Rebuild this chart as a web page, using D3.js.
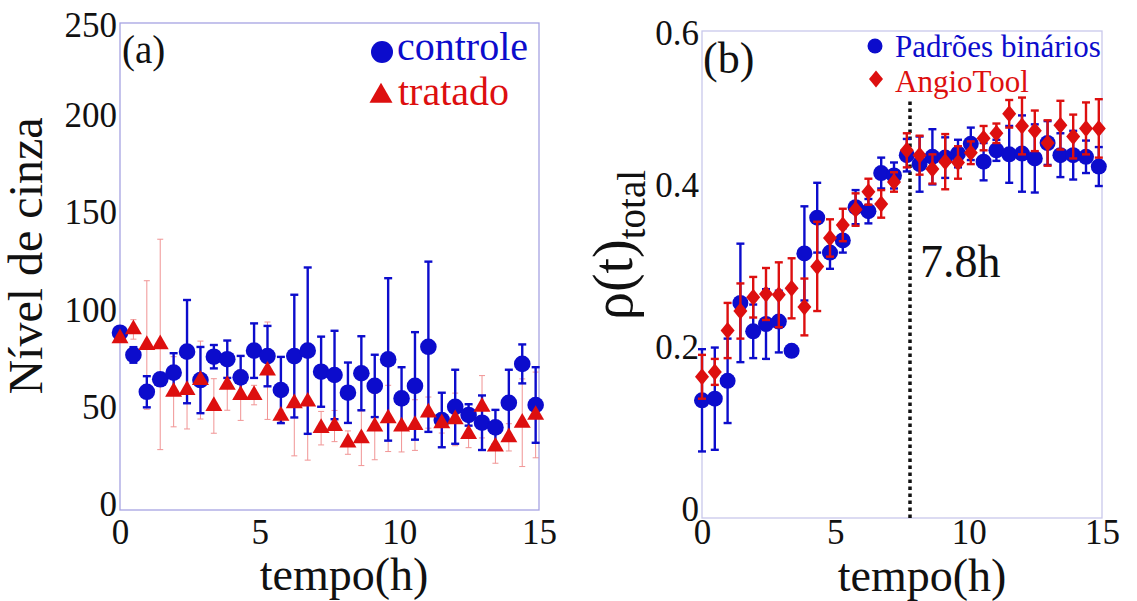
<!DOCTYPE html>
<html>
<head>
<meta charset="utf-8">
<script src="https://cdn.jsdelivr.net/npm/d3@7"></script>
<style>
  html, body { margin: 0; padding: 0; background: #fff; }
  svg { display: block; font-family: "Liberation Serif", "Times New Roman", serif; }
  svg .tick text { font-family: "Liberation Serif", "Times New Roman", serif !important; }
</style>
</head>
<body>
<svg id="fig" width="1137" height="601"></svg>
<script>
// Sampling times (h), shared by both panels
const tempo = [0, 0.48, 0.96, 1.44, 1.92, 2.40, 2.88, 3.36, 3.84, 4.32, 4.80, 5.28,
  5.76, 6.24, 6.72, 7.20, 7.68, 8.16, 8.64, 9.12, 9.60, 10.08, 10.56, 11.04,
  11.52, 12.00, 12.48, 12.96, 13.44, 13.92, 14.40, 14.88];

// Panel (a): grey level
const controleMean = [91, 79.6, 60.7, 67.1, 70.5, 81.3, 66.7, 78.7, 77.4, 68.1, 81.8, 79,
  61.6, 79, 81.8, 71, 69.3, 60.2, 70.2, 63.7, 77.3, 57.3, 63.7, 83.8,
  46.2, 53, 48.8, 44.8, 42.4, 55, 75, 53.9];
const controleErr = [2, 4, 8, 3, 10, 26.5, 17, 6, 9.6, 11, 14, 15.5,
  17, 31.5, 42.7, 18, 22.7, 15.5, 19, 16, 41.7, 16, 27.6, 43.7,
  14, 19, 5.5, 14, 9, 17, 10, 19.4];
const tratadoMean = [88.1, 92.7, 84.7, 85, 60.7, 61.6, 66.7, 53.4, 64.2, 59, 59, 71.5,
  48.3, 54.8, 55.6, 42, 43.1, 34.6, 36.8, 42.8, 47, 42.8, 43.6, 50,
  44.5, 46.5, 39, 53, 32.5, 37.3, 44.8, 48.8];
const tratadoErr = [2, 5, 33, 54, 18, 20, 20, 14, 13, 13, 5, 25,
  3, 27, 30, 8.6, 8, 6, 14, 17, 17, 13, 13, 8,
  5, 13.5, 7, 16, 8.5, 7, 22.5, 22];

// Panel (b): total density
const binariosMean = [0.145, 0.147, 0.169, 0.265, 0.230, 0.239, 0.242, 0.206, 0.326, 0.370, 0.327, 0.342,
  0.383, 0.378, 0.425, 0.422, 0.447, 0.436, 0.445, 0.444, 0.449, 0.461, 0.439, 0.453,
  0.448, 0.449, 0.443, 0.462, 0.447, 0.447, 0.445, 0.433];
const binariosErr = [0.063, 0.063, 0.052, 0.073, 0.033, 0.043, 0.038, 0, 0.058, 0.043, 0.02, 0.015,
  0.021, 0.015, 0.019, 0.016, 0.02, 0.034, 0.034, 0.025, 0.017, 0.02, 0.023, 0.013,
  0.035, 0.047, 0.042, 0.027, 0.027, 0.03, 0.02, 0.024];
const angioMean = [0.174, 0.180, 0.231, 0.255, 0.272, 0.276, 0.275, 0.283, 0.260, 0.310, 0.345, 0.361,
  0.380, 0.402, 0.387, 0.414, 0.453, 0.447, 0.430, 0.439, 0.438, 0.450, 0.468, 0.474,
  0.498, 0.483, 0.477, 0.462, 0.484, 0.470, 0.480, 0.480];
const angioErr = [0.027, 0.016, 0.034, 0.034, 0.025, 0.032, 0.04, 0.037, 0.035, 0.055, 0.023, 0.02,
  0.02, 0.016, 0.017, 0.012, 0.021, 0.024, 0.018, 0.034, 0.02, 0.014, 0.015, 0.012,
  0.017, 0.035, 0.025, 0.028, 0.03, 0.027, 0.032, 0.036];

const xTicks = [0, 5, 10, 15];
const yTicksA = [0, 50, 100, 150, 200, 250];
const yTicksB = [0, 0.2, 0.4, 0.6];
const yTickLabelsB = ["0", "0.2", "0.4", "0.6"];
const markerTime = 7.8;

const BLUE = "#0c0ccc";
const RED = "#dd0f0f";
const SERIF = '"Liberation Serif", "Times New Roman", serif';

const svg = d3.select("#fig");

function toPoints(mean, err) {
  return tempo.map((t, i) => ({ t, v: mean[i], e: err[i] }));
}

function errorBars(g, data, x, y, opts) {
  const grp = g.append("g").attr("stroke", opts.color).attr("stroke-width", opts.width)
    .attr("opacity", opts.opacity || 1);
  data.filter(d => d.e > 0).forEach(d => {
    const cx = x(d.t), y0 = y(d.v - d.e), y1 = y(d.v + d.e);
    grp.append("line").attr("x1", cx).attr("x2", cx).attr("y1", y0).attr("y2", y1);
    grp.append("line").attr("x1", cx - opts.cap).attr("x2", cx + opts.cap).attr("y1", y0).attr("y2", y0);
    grp.append("line").attr("x1", cx - opts.cap).attr("x2", cx + opts.cap).attr("y1", y1).attr("y2", y1);
  });
}

function frame(g, x, y, color) {
  const [x0, x1] = x.range();
  const [y0, y1] = y.range();
  g.append("rect").attr("x", x0).attr("y", y1).attr("width", x1 - x0).attr("height", y0 - y1)
    .attr("fill", "none").attr("stroke", color).attr("stroke-width", 1.3);
}

function axes(g, x, y, yTickVals, yFmt, fontSize, xLabelY, yShift) {
  const ax = g.append("g").attr("transform", `translate(0,${y.range()[0]})`)
    .call(d3.axisBottom(x).tickValues(xTicks).tickSize(0).tickPadding(0).tickFormat(d3.format("d")));
  ax.attr("font-family", null).style("font-family", SERIF);
  ax.select(".domain").remove();
  ax.selectAll("text").style("font-family", SERIF).attr("font-size", fontSize)
    .attr("fill", "#111").attr("dy", null).attr("y", xLabelY);

  const ay = g.append("g").attr("transform", `translate(${x.range()[0]},0)`)
    .call(d3.axisLeft(y).tickValues(yTickVals).tickSize(0).tickPadding(3).tickFormat(yFmt));
  ay.attr("font-family", null).style("font-family", SERIF);
  ay.select(".domain").remove();
  ay.selectAll("text").style("font-family", SERIF).attr("font-size", fontSize)
    .attr("fill", "#111").attr("dy", null)
    .attr("y", d => Math.max(y(d) - yShift, y.range()[1] + 2) - y(d) + fontSize * 0.34);
}

// ---------- Panel (a) ----------
const xa = d3.scaleLinear().domain([0, 15]).range([120, 539]);
const ya = d3.scaleLinear().domain([0, 250]).range([510, 23]);
const ga = svg.append("g");
frame(ga, xa, ya, "#a6a3e2");
axes(ga, xa, ya, yTicksA, d3.format("d"), 35, 34, 6);

const ctrl = toPoints(controleMean, controleErr);
const trat = toPoints(tratadoMean, tratadoErr);
errorBars(ga, trat, xa, ya, { color: "#ee7b7b", width: 1, cap: 3, opacity: 0.8 });
errorBars(ga, ctrl, xa, ya, { color: BLUE, width: 2.4, cap: 4 });
ga.append("g").selectAll("circle").data(ctrl).join("circle")
  .attr("cx", d => xa(d.t)).attr("cy", d => ya(d.v)).attr("r", 8.3).attr("fill", BLUE);
const tri = d3.symbol().type(d3.symbolTriangle).size(125);
ga.append("g").selectAll("path").data(trat).join("path")
  .attr("d", tri).attr("transform", d => `translate(${xa(d.t)},${ya(d.v)})`).attr("fill", RED);

ga.append("text").attr("x", 122).attr("y", 63).attr("font-size", 39).attr("fill", "#111").text("(a)");
// legend
ga.append("circle").attr("cx", 382).attr("cy", 52).attr("r", 11).attr("fill", BLUE);
ga.append("text").attr("x", 397).attr("y", 60).attr("font-size", 40).attr("fill", BLUE).text("controle");
ga.append("path").attr("d", d3.symbol().type(d3.symbolTriangle).size(230))
  .attr("transform", "translate(381,96)").attr("fill", RED);
ga.append("text").attr("x", 398).attr("y", 105).attr("font-size", 40).attr("fill", RED).text("tratado");

ga.append("text").attr("x", 344).attr("y", 590).attr("text-anchor", "middle")
  .attr("font-size", 46).attr("fill", "#111").text("tempo(h)");
ga.append("text").attr("transform", "translate(42,256) rotate(-90)").attr("text-anchor", "middle")
  .attr("font-size", 48).attr("fill", "#111").text("Nível de cinza");

// ---------- Panel (b) ----------
const xb = d3.scaleLinear().domain([0, 15]).range([702, 1102]);
const yb = d3.scaleLinear().domain([0, 0.6]).range([518, 31]);
const gb = svg.append("g");
frame(gb, xb, yb, "#c9c8ec");
axes(gb, xb, yb, yTicksB, (d, i) => yTickLabelsB[i], 35, 26, 9);

gb.append("line").attr("x1", xb(markerTime)).attr("x2", xb(markerTime))
  .attr("y1", yb(0)).attr("y2", yb(0.515))
  .attr("stroke", "#111").attr("stroke-width", 3.5).attr("stroke-dasharray", "3.5,3.5");
gb.append("text").attr("x", xb(markerTime) + 10).attr("y", 277).attr("font-size", 46)
  .attr("fill", "#111").text("7.8h");

const bin = toPoints(binariosMean, binariosErr);
const ang = toPoints(angioMean, angioErr);
errorBars(gb, bin, xb, yb, { color: BLUE, width: 2.4, cap: 4 });
gb.append("g").selectAll("circle").data(bin).join("circle")
  .attr("cx", d => xb(d.t)).attr("cy", d => yb(d.v)).attr("r", 8).attr("fill", BLUE);
errorBars(gb, ang, xb, yb, { color: RED, width: 2.4, cap: 4 });
const diamond = "M0,-8.5L7,0L0,8.5L-7,0Z";
gb.append("g").selectAll("path").data(ang).join("path")
  .attr("d", diamond).attr("transform", d => `translate(${xb(d.t)},${yb(d.v)})`).attr("fill", RED);

gb.append("text").attr("x", 703).attr("y", 73).attr("font-size", 44).attr("fill", "#111").text("(b)");
// legend
gb.append("circle").attr("cx", 875).attr("cy", 46).attr("r", 7.5).attr("fill", BLUE);
gb.append("text").attr("x", 895).attr("y", 57).attr("font-size", 31).attr("fill", BLUE).text("Padrões binários");
gb.append("path").attr("d", diamond).attr("transform", "translate(876,79)").attr("fill", RED);
gb.append("text").attr("x", 895).attr("y", 92).attr("font-size", 31).attr("fill", RED).text("AngioTool");

gb.append("text").attr("x", 922).attr("y", 591).attr("text-anchor", "middle")
  .attr("font-size", 46).attr("fill", "#111").text("tempo(h)");
const yl = gb.append("text").attr("transform", "translate(632,245) rotate(-90)")
  .attr("text-anchor", "middle").attr("fill", "#111");
yl.append("tspan").attr("font-size", 56).text("ρ(t)");
yl.append("tspan").attr("font-size", 39).attr("dy", 13).text("total");
</script>
</body>
</html>
